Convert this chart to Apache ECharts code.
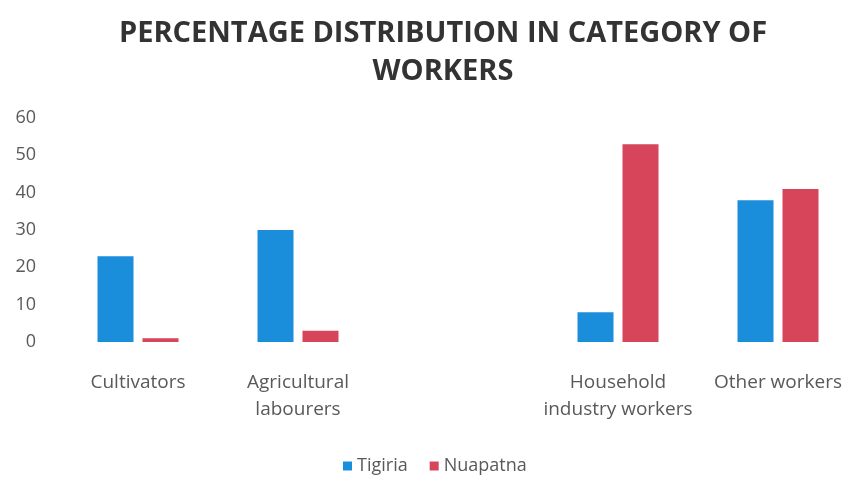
<!DOCTYPE html>
<html>
<head>
<meta charset="utf-8">
<script src="https://cdn.jsdelivr.net/npm/echarts@6/dist/echarts.min.js"></script>
<style>
  html, body { margin: 0; padding: 0; background: #fff; }
  #chart { width: 848px; height: 477px; }
</style>
</head>
<body>
<div id="chart"></div>
<script>
// Worker categories (the blank slot keeps the gap between groups)
const categories = ['Cultivators', 'Agricultural\nlabourers', '', 'Household\nindustry workers', 'Other workers'];
const tigiria = [23, 30, null, 8, 38];
const nuapatna = [1, 3, null, 53, 41];
const yTicks = { min: 0, max: 60, interval: 10 };

const chart = echarts.init(document.getElementById('chart'), null, { renderer: 'canvas' });
const labelFont = "'Open Sans', sans-serif";

chart.setOption({
  backgroundColor: '#ffffff',
  animation: false,
  title: {
    text: 'PERCENTAGE DISTRIBUTION IN CATEGORY OF\nWORKERS',
    left: 438,
    textAlign: 'center',
    top: 10,
    textStyle: {
      fontFamily: "'Open Sans', sans-serif",
      fontWeight: 'bold',
      fontSize: 29,
      lineHeight: 38,
      color: '#333333'
    }
  },
  legend: {
    top: 452,
    left: 338,
    itemWidth: 9,
    itemHeight: 9,
    itemGap: 22,
    icon: 'rect',
    textStyle: { fontFamily: labelFont, fontSize: 18, color: '#595959' },
    data: ['Tigiria', 'Nuapatna']
  },
  grid: { left: 58, width: 800, top: 118, bottom: 135, containLabel: false, outerBoundsMode: 'none' },
  xAxis: {
    type: 'category',
    data: categories,
    axisLine: { show: false },
    axisTick: { show: false },
    axisLabel: {
      interval: 0,
      margin: 27,
      fontFamily: labelFont,
      fontSize: 19,
      lineHeight: 27,
      color: '#595959'
    }
  },
  yAxis: {
    type: 'value',
    min: yTicks.min,
    max: yTicks.max,
    interval: yTicks.interval,
    splitLine: { show: false },
    axisLine: { show: false },
    axisTick: { show: false },
    axisLabel: {
      margin: 22,
      fontFamily: labelFont,
      fontSize: 18,
      color: '#595959'
    }
  },
  series: [
    {
      name: 'Tigiria',
      type: 'bar',
      data: tigiria,
      barWidth: 36,
      barGap: '25%',
      itemStyle: { color: '#1a8edb' }
    },
    {
      name: 'Nuapatna',
      type: 'bar',
      data: nuapatna,
      barWidth: 36,
      barGap: '25%',
      itemStyle: { color: '#d6455a' }
    }
  ]
});
</script>
</body>
</html>
